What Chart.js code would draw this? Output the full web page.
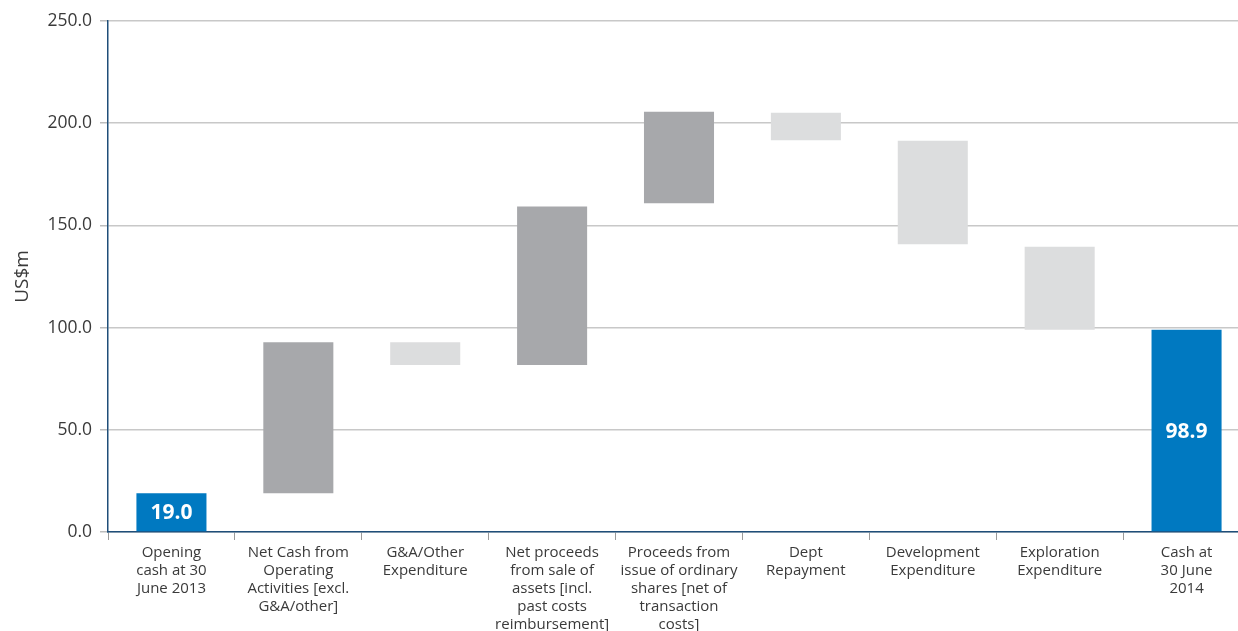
<!DOCTYPE html>
<html>
<head>
<meta charset="utf-8">
<script src="https://cdn.jsdelivr.net/npm/chart.js@4/dist/chart.umd.min.js"></script>
<style>
  html, body { margin: 0; padding: 0; background: #ffffff; overflow: hidden; }
  #wrap { width: 1238px; height: 631px; position: relative; overflow: hidden; }
  #c { position: absolute; left: 0; top: 0; }
</style>
</head>
<body>
<div id="wrap"><canvas id="c" width="1250" height="631"></canvas></div>
<script>
// Cash flow bridge, US$m
const categories = [
  ['Opening', 'cash at 30', 'June 2013'],
  ['Net Cash from', 'Operating', 'Activities [excl.', 'G&A/other]'],
  ['G&A/Other', 'Expenditure'],
  ['Net proceeds', 'from sale of', 'assets [incl.', 'past costs', 'reimbursement]'],
  ['Proceeds from', 'issue of ordinary', 'shares [net of', 'transaction', 'costs]'],
  ['Dept', 'Repayment'],
  ['Development', 'Expenditure'],
  ['Exploration', 'Expenditure'],
  ['Cash at', '30 June', '2014']
];
// lower and upper edge of each bar
const barLow  = [0,    19.0, 81.7, 81.7,  160.8, 191.6, 140.8, 98.9,  0];
const barHigh = [19.0, 92.8, 92.8, 159.2, 205.6, 205.1, 191.4, 139.6, 98.9];
// bar kind: total, increase, decrease
const barKind = ['total', 'up', 'down', 'up', 'up', 'down', 'down', 'down', 'total'];
const yTicks = [0, 50, 100, 150, 200, 250];

const kindColor = { total: '#0079c1', up: '#a7a8ab', down: '#dcddde' };
const FONT = '"Open Sans", "DejaVu Sans", sans-serif';

const valueLabels = {
  id: 'valueLabels',
  afterDatasetsDraw(chart) {
    const ctx = chart.ctx;
    const meta = chart.getDatasetMeta(0);
    ctx.save();
    ctx.fillStyle = '#ffffff';
    ctx.font = 'bold 21px ' + FONT;
    ctx.textAlign = 'center';
    ctx.textBaseline = 'middle';
    meta.data.forEach((bar, i) => {
      if (barKind[i] !== 'total') return;
      const v = barHigh[i] - barLow[i];
      const y = (bar.y + bar.base) / 2;
      ctx.fillText(v.toFixed(1), bar.x, y + 1);
    });
    ctx.restore();
  }
};

new Chart(document.getElementById('c'), {
  type: 'bar',
  data: {
    labels: categories,
    datasets: [{
      data: barLow.map((lo, i) => [lo, barHigh[i]]),
      backgroundColor: barKind.map(k => kindColor[k]),
      borderWidth: 0,
      barPercentage: 0.552,
      categoryPercentage: 1.0
    }]
  },
  options: {
    responsive: false,
    animation: false,
    layout: { padding: { top: 21, right: 0, left: 0, bottom: 0 } },
    plugins: { legend: { display: false }, tooltip: { enabled: false } },
    scales: {
      x: {
        grid: {
          offset: true,
          drawOnChartArea: false,
          drawTicks: true,
          tickLength: 8,
          tickColor: '#9a9a9a',
          tickWidth: 1
        },
        border: { color: '#1f4e79', width: 1.5 },
        ticks: {
          color: '#3a3a3a',
          font: { family: FONT, size: 15 },
          padding: 4,
          maxRotation: 0,
          autoSkip: false
        },
        afterFit(scale) { scale.height = 99; }
      },
      y: {
        min: 0,
        max: 250,
        afterBuildTicks(scale) { scale.ticks = yTicks.map(v => ({ value: v })); },
        grid: {
          color: '#c8c8c8',
          lineWidth: 1.5,
          drawTicks: true,
          tickLength: 8,
          tickColor: '#bdbdbd'
        },
        border: { color: '#1f4e79', width: 1.5 },
        ticks: {
          color: '#3a3a3a',
          font: { family: FONT, size: 17.5 },
          padding: 8,
          callback: v => Number(v).toFixed(1)
        },
        title: {
          display: true,
          text: 'US$m',
          color: '#3a3a3a',
          font: { family: FONT, size: 19 },
          padding: { top: 11, bottom: 0 }
        },
        afterFit(scale) { scale.width = 108; }
      }
    }
  },
  plugins: [valueLabels]
});
</script>
</body>
</html>
